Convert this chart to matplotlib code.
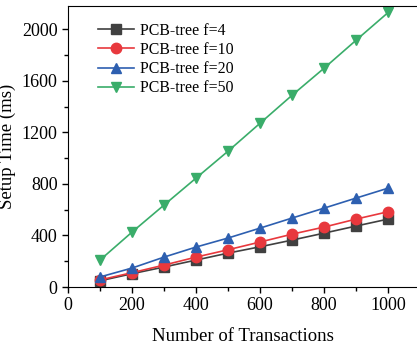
import matplotlib
matplotlib.use("Agg")
import matplotlib.pyplot as plt
from matplotlib.ticker import MultipleLocator

plt.rcParams["font.family"] = ["Liberation Serif", "DejaVu Serif"]

# ── Data ─────────────────────────────────────────────────
transactions = [100, 200, 300, 400, 500, 600, 700, 800, 900, 1000]
f4 = [48, 103, 155, 209, 263, 312, 364, 418, 473, 527]
f10 = [55, 111, 170, 232, 289, 349, 410, 465, 527, 584]
f20 = [78, 147, 232, 310, 380, 457, 535, 612, 690, 767]
f50 = [209, 426, 636, 845, 1054, 1271, 1488, 1698, 1915, 2130]

series = [
    ("PCB-tree f=4", f4, "#404040", "s"),
    ("PCB-tree f=10", f10, "#e8383d", "o"),
    ("PCB-tree f=20", f20, "#2d5fb0", "^"),
    ("PCB-tree f=50", f50, "#3aad6a", "v"),
]

# ── Plot ─────────────────────────────────────────────────
fig = plt.figure(figsize=(4.17, 3.45), dpi=100)
ax = fig.add_axes([68 / 417, 58 / 345, 1.0 - 68 / 417, (287 - 6) / 345])

for label, ys, color, marker in series:
    ax.plot(transactions, ys, color=color, marker=marker, markersize=7.5,
            linewidth=1.2, label=label)

ax.set_xlim(0, 1090)
ax.set_ylim(0, 2180)
ax.xaxis.set_major_locator(MultipleLocator(200))
ax.xaxis.set_minor_locator(MultipleLocator(100))
ax.yaxis.set_major_locator(MultipleLocator(400))
ax.yaxis.set_minor_locator(MultipleLocator(200))
ax.tick_params(which="both", direction="out", labelsize=13, width=1)
ax.tick_params(which="major", length=4)
ax.tick_params(which="minor", length=3)
ax.spines["right"].set_visible(False)

ax.set_xlabel("Number of Transactions", fontsize=13.5, labelpad=10)
ax.set_ylabel("Setup Time (ms)", fontsize=13.5)

ax.legend(loc="upper left", frameon=False, fontsize=11.4, handlelength=2.3,
          borderpad=0, borderaxespad=0, labelspacing=0.2, handletextpad=0.4,
          bbox_to_anchor=(0.085, 0.94))

fig.savefig("out.png", dpi=100)
